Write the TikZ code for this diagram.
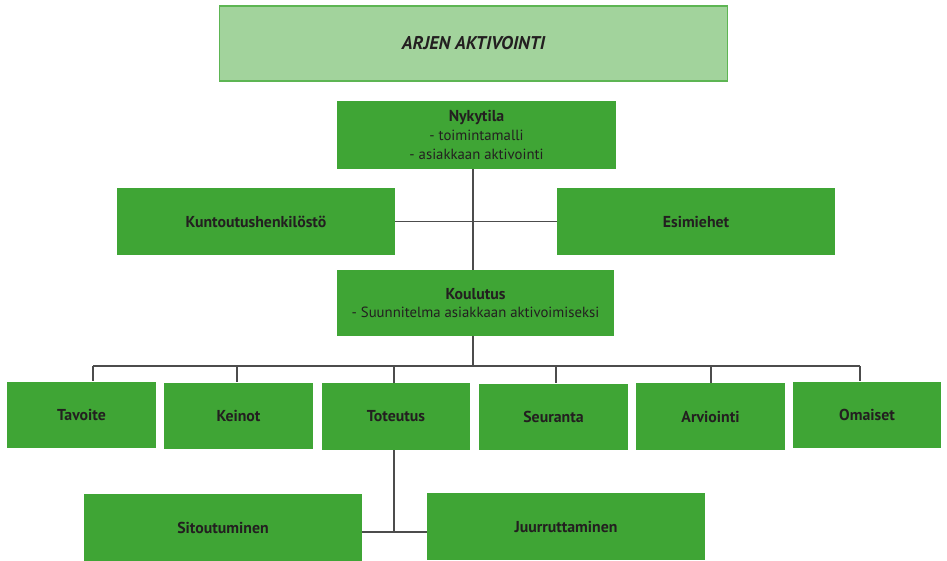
\documentclass[tikz,border=0pt]{standalone}
\usepackage{fontspec}
\setmainfont{PT Sans}
\definecolor{boxgreen}{HTML}{3FA535}
\definecolor{titlegreen}{HTML}{A2D39C}
\definecolor{titleedge}{HTML}{5DB553}
\definecolor{ink}{HTML}{231F20}
\begin{document}
\begin{tikzpicture}[x=0.02cm, y=-0.02cm,
    gbox/.style={fill=boxgreen, draw=none, text=ink, font=\fontsize{8.4}{10.6}\selectfont, align=center, inner sep=2pt},
    wide/.style={gbox, minimum width=5.56cm, minimum height=1.34cm},
    small/.style={gbox, minimum width=2.98cm, minimum height=1.34cm, font=\fontsize{9}{11}\selectfont\bfseries},
    link/.style={draw=black!70, line width=0.7pt}]
    \useasboundingbox (0,0) rectangle (947,561);
    % otsikko
    \node[fill=titlegreen, draw=titleedge, line width=0.6pt, minimum width=10.18cm, minimum height=1.5cm, text=ink, font=\fontsize{10.5}{12}\selectfont\bfseries\itshape] (title) at (473.5,43.5) {ARJEN AKTIVOINTI};
    \node[wide, minimum width=5.58cm, minimum height=1.36cm] (nyky) at (476.5,135) {{\fontsize{9}{10.6}\selectfont\bfseries Nykytila}\\- toimintamalli\\- asiakkaan aktivointi};
    \node[wide, font=\fontsize{9}{11}\selectfont\bfseries] (kunt) at (256,221.5) {Kuntoutushenkilöstö};
    \node[wide, font=\fontsize{9}{11}\selectfont\bfseries] (esim) at (696,221.5) {Esimiehet};
    \node[wide, minimum width=5.54cm, minimum height=1.32cm] (koul) at (475.5,303) {{\fontsize{9}{10.6}\selectfont\bfseries Koulutus}\\- Suunnitelma asiakkaan aktivoimiseksi};
    % rivi
    \node[small] (tav) at (81.5,415) {Tavoite};
    \node[small] (kei) at (238.5,416) {Keinot};
    \node[small] (tot) at (396,416.5) {Toteutus};
    \node[small] (seu) at (553.5,417) {Seuranta};
    \node[small] (arv) at (710.5,416.5) {Arviointi};
    \node[small] (oma) at (867,415) {Omaiset};
    % alin taso
    \node[wide, font=\fontsize{9}{11}\selectfont\bfseries] (sit) at (223,527.5) {Sitoutuminen};
    \node[wide, font=\fontsize{9}{11}\selectfont\bfseries] (juu) at (566,526.5) {Juurruttaminen};
    % viivat
    \coordinate (sp) at (473,366);
    \draw[link] (nyky.south -| sp) -- (koul.north -| sp);
    \draw[link] (kunt.east) -- (esim.west);
    \draw[link] (koul.south -| sp) -- (sp);
    \coordinate (bl) at (93,366);
    \coordinate (br) at (860,366);
    \draw[link] (bl) -- (br);
    \foreach \n/\x in {tav/93, kei/237, tot/394, seu/556, arv/711, oma/860} {
      \coordinate (d\n) at (\x,366);
      \draw[link] (d\n) -- (d\n |- \n.north);
    }
    \coordinate (j) at (394,532);
    \draw[link] (tot.south -| j) -- (j);
    \draw[link] (sit.east |- j) -- (juu.west |- j);
\end{tikzpicture}
\end{document}
